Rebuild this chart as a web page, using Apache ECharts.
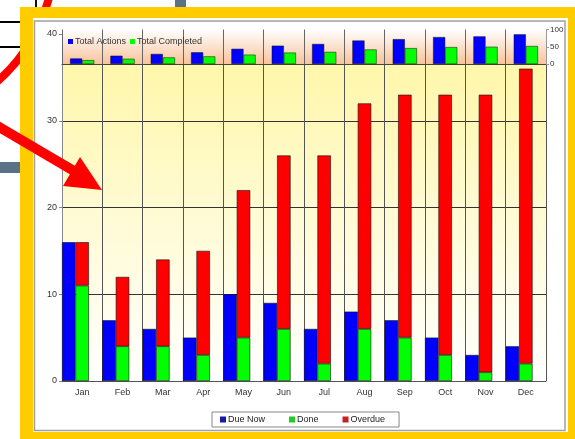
<!DOCTYPE html>
<html>
<head>
<meta charset="utf-8">
<script src="https://cdn.jsdelivr.net/npm/echarts@6/dist/echarts.min.js"></script>
<style>
  html, body { margin: 0; padding: 0; background: #fff; }
  #chart { width: 575px; height: 439px; }
</style>
</head>
<body>
<div id="chart"></div>
<script>
// monthly action data
const months = ['Jan', 'Feb', 'Mar', 'Apr', 'May', 'Jun', 'Jul', 'Aug', 'Sep', 'Oct', 'Nov', 'Dec'];
const dueNow = [16, 7, 6, 5, 10, 9, 6, 8, 7, 5, 3, 4];
const done = [11, 4, 4, 3, 5, 6, 2, 6, 5, 3, 1, 2];
const overdue = [5, 8, 10, 12, 17, 20, 24, 26, 28, 30, 32, 34];
// running totals (small inset chart, right axis)
const totalActions = [16, 24, 29, 34, 44, 53, 58, 68, 72, 78, 80, 86];
const totalCompleted = [11, 15, 19, 22, 27, 33, 35, 42, 46, 49, 50, 52];
const spacer = months.map(() => null);

const FONT = 'Arial, "Liberation Sans", sans-serif';
const chart = echarts.init(document.getElementById('chart'));

const option = {
  animation: false,
  textStyle: { fontFamily: FONT },
  graphic: [
    // stuff behind the slide frame
    { type: 'rect', z: -20, shape: { x: 0, y: 21, width: 30, height: 2 }, style: { fill: '#000' } },
    { type: 'rect', z: -20, shape: { x: 0, y: 46, width: 30, height: 2 }, style: { fill: '#000' } },
    { type: 'rect', z: -20, shape: { x: 35, y: 0, width: 2, height: 10 }, style: { fill: '#111' } },
    { type: 'rect', z: -20, shape: { x: 175, y: 0, width: 11, height: 10 }, style: { fill: '#5b7186' } },
    { type: 'rect', z: -20, shape: { x: 0, y: 162, width: 30, height: 11 }, style: { fill: '#5b7186' } },
    { type: 'bezierCurve', z: -19, shape: { x1: 50, y1: -6, cpx1: 36, cpy1: 50, x2: -8, y2: 86 }, style: { fill: null, stroke: '#ff0000', lineWidth: 8 } },
    // yellow frame + white panel
    { type: 'rect', z: -10, shape: { x: 20, y: 7, width: 560, height: 440 }, style: { fill: '#ffcc00' } },
    { type: 'rect', z: -9, shape: { x: 33, y: 18, width: 535, height: 414 }, style: { fill: '#fff' } },
    { type: 'rect', z: -8, shape: { x: 34.5, y: 21, width: 530.5, height: 409.5 }, style: { fill: null, stroke: '#a0a0a0', lineWidth: 1.5 } },
    // arrow on top
    { type: 'line', z: 100, shape: { x1: -6, y1: 124, x2: 74, y2: 171 }, style: { stroke: '#ff0000', lineWidth: 10 } },
    { type: 'polygon', z: 100, shape: { points: [[80, 157], [63, 186], [102, 190]] }, style: { fill: '#ff0000' } }
  ],
  legend: [{
    data: [
      { name: 'Due Now', itemStyle: { color: '#1a1aa8' } },
      { name: 'Done', itemStyle: { color: '#22cc22' } },
      { name: 'Overdue', itemStyle: { color: '#c42222' } }
    ],
    left: 212, top: 412,
    backgroundColor: '#fff',
    borderColor: '#888', borderWidth: 1,
    padding: [3, 14, 3, 8],
    icon: 'rect', itemWidth: 6, itemHeight: 6, itemGap: 24,
    itemStyle: { borderWidth: 0 },
    textStyle: { fontSize: 9, color: '#222', padding: [0, 0, 0, -3] }
  }, {
    data: ['Total Actions', 'Total Completed'],
    left: 68, top: 37, z: 5,
    padding: 0,
    icon: 'rect', itemWidth: 5, itemHeight: 5, itemGap: 4,
    itemStyle: { borderWidth: 0 },
    textStyle: { fontSize: 9, color: '#333', padding: [0, 0, 0, -3] }
  }],
  grid: [{
    left: 62, right: 29, top: 34, bottom: 58,
    show: true, borderWidth: 0,
    backgroundColor: new echarts.graphic.LinearGradient(0, 0, 0, 1, [
      { offset: 0, color: '#fff6a2' },
      { offset: 0.55, color: '#fffbd6' },
      { offset: 1, color: '#ffffff' }
    ])
  }, {
    left: 62, right: 29, top: 29.5, height: 34.5, z: 3,
    show: true, borderWidth: 0,
    backgroundColor: new echarts.graphic.LinearGradient(0, 0, 0, 1, [
      { offset: 0, color: '#ffffff' },
      { offset: 1, color: '#f7c39b' }
    ])
  }],
  xAxis: [{
    gridIndex: 0, type: 'category', data: months,
    axisLine: { lineStyle: { color: '#555', width: 1 } },
    axisTick: { length: 3, lineStyle: { color: '#555' } },
    axisLabel: { fontSize: 9, color: '#333', margin: 7 },
    splitLine: { show: true, lineStyle: { color: '#555', width: 1 } }
  }, {
    gridIndex: 1, type: 'category', data: months, z: 4,
    axisLine: { lineStyle: { color: '#444', width: 1 } },
    axisTick: { show: false },
    axisLabel: { show: false },
    splitLine: { show: true, lineStyle: { color: '#666', width: 1 } }
  }],
  yAxis: [{
    gridIndex: 0, type: 'value', min: 0, max: 40, interval: 10,
    axisLine: { show: true, lineStyle: { color: '#888' } },
    axisTick: { show: true, length: 3, lineStyle: { color: '#888' } },
    axisLabel: { fontSize: 9, color: '#333', margin: 5 },
    splitLine: { show: true, showMaxLine: false, lineStyle: { color: '#333', width: 1 } }
  }, {
    gridIndex: 1, type: 'value', position: 'right', min: 0, max: 100, interval: 50, z: 4,
    axisLine: { show: true, lineStyle: { color: '#999' } },
    axisTick: { show: true, length: 3, lineStyle: { color: '#999' } },
    axisLabel: { fontSize: 8, color: '#333', margin: 4 },
    splitLine: { show: false }
  }],
  series: [{
    name: 'Due Now', type: 'bar', xAxisIndex: 0, yAxisIndex: 0,
    data: dueNow, barGap: '0%', barCategoryGap: '0%',
    itemStyle: { color: '#0000ff', borderColor: '#111', borderWidth: 0.6 }
  }, {
    name: 'Done', type: 'bar', xAxisIndex: 0, yAxisIndex: 0, stack: 'st',
    data: done, barGap: '0%', barCategoryGap: '0%',
    itemStyle: { color: '#00ff00', borderColor: '#111', borderWidth: 0.6 }
  }, {
    name: 'Overdue', type: 'bar', xAxisIndex: 0, yAxisIndex: 0, stack: 'st',
    data: overdue, barGap: '0%', barCategoryGap: '0%',
    itemStyle: { color: '#ff0000', borderColor: '#111', borderWidth: 0.6 }
  }, {
    name: 'spacer', type: 'bar', xAxisIndex: 0, yAxisIndex: 0,
    data: spacer, barGap: '0%', barCategoryGap: '0%', silent: true
  }, {
    name: 'Total Actions', type: 'bar', xAxisIndex: 1, yAxisIndex: 1, z: 5,
    data: totalActions, barGap: '0%', barCategoryGap: '40%',
    itemStyle: { color: '#0000ff', borderColor: '#111', borderWidth: 0.5 }
  }, {
    name: 'Total Completed', type: 'bar', xAxisIndex: 1, yAxisIndex: 1, z: 5,
    data: totalCompleted, barGap: '0%', barCategoryGap: '40%',
    itemStyle: { color: '#00ff00', borderColor: '#111', borderWidth: 0.5 }
  }]
};

chart.setOption(option);
</script>
</body>
</html>
